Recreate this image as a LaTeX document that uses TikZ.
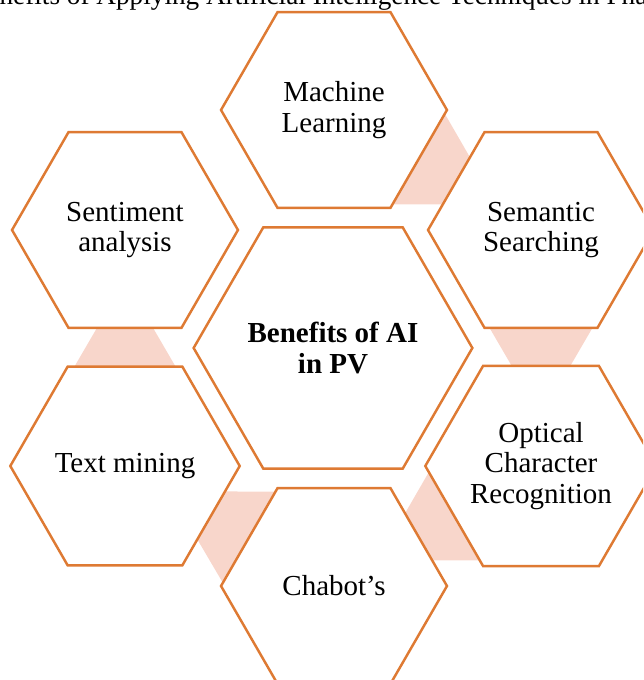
\documentclass[tikz,border=0pt]{standalone}
\usepackage{fontspec}
\setmainfont{Liberation Serif}
\usetikzlibrary{shapes.geometric,calc,backgrounds}

\definecolor{hexline}{HTML}{DE7A33}
\definecolor{hexlink}{HTML}{F8D6CB}

\tikzset{
  cell/.style={regular polygon,regular polygon sides=6,minimum size=4.52cm,
    inner sep=0pt,outer sep=0pt,draw=hexline,line width=1.4pt,fill=white,
    align=center,font=\fontsize{16.5}{17.5}\selectfont},
  core/.style={cell,minimum size=5.5cm,font=\fontsize{16.5}{18}\selectfont\bfseries},
  link/.style={fill=hexlink},
}

\begin{document}
\begin{tikzpicture}[x=0.02cm,y=0.02cm]
  \useasboundingbox (0,0) rectangle (643,680);
  \clip (0,0) rectangle (643,680);

  % caption line running off the top
  \node[anchor=base west,inner sep=0pt,font=\fontsize{15.5}{17}\selectfont] (title) at (-31,675)
    {Benefits of Applying Artificial Intelligence Techniques in Pharmacovigilance};

  % the ring of hexagons
  \node[core] (hub) at (333,332) {Benefits of AI\\in PV};
  \node[cell] (ml)   at (334,570) {Machine\\Learning};
  \node[cell] (ss)   at (541,450) {Semantic\\Searching};
  \node[cell] (ocr)  at (541,214) {Optical\\Character\\Recognition};
  \node[cell] (chat) at (334,94)  {Chabot’s};
  \node[cell] (tm)   at (125,214) {Text mining};
  \node[cell] (sa)   at (125,450) {Sentiment\\analysis};

  % shaded bands in the gaps, wide end first
  \begin{scope}[on background layer]
    \foreach \a/\b in {ml/ss, ss/ocr, ocr/chat, chat/tm, tm/sa}
      \fill[link] ($(\a)!0.40!(\b)!1.07cm!90:(\b)$) -- ($(\a)!0.40!(\b)!1.07cm!-90:(\b)$)
        -- ($(\a)!0.60!(\b)!0.52cm!-90:(\b)$) -- ($(\a)!0.60!(\b)!0.52cm!90:(\b)$) -- cycle;
  \end{scope}
\end{tikzpicture}
\end{document}
